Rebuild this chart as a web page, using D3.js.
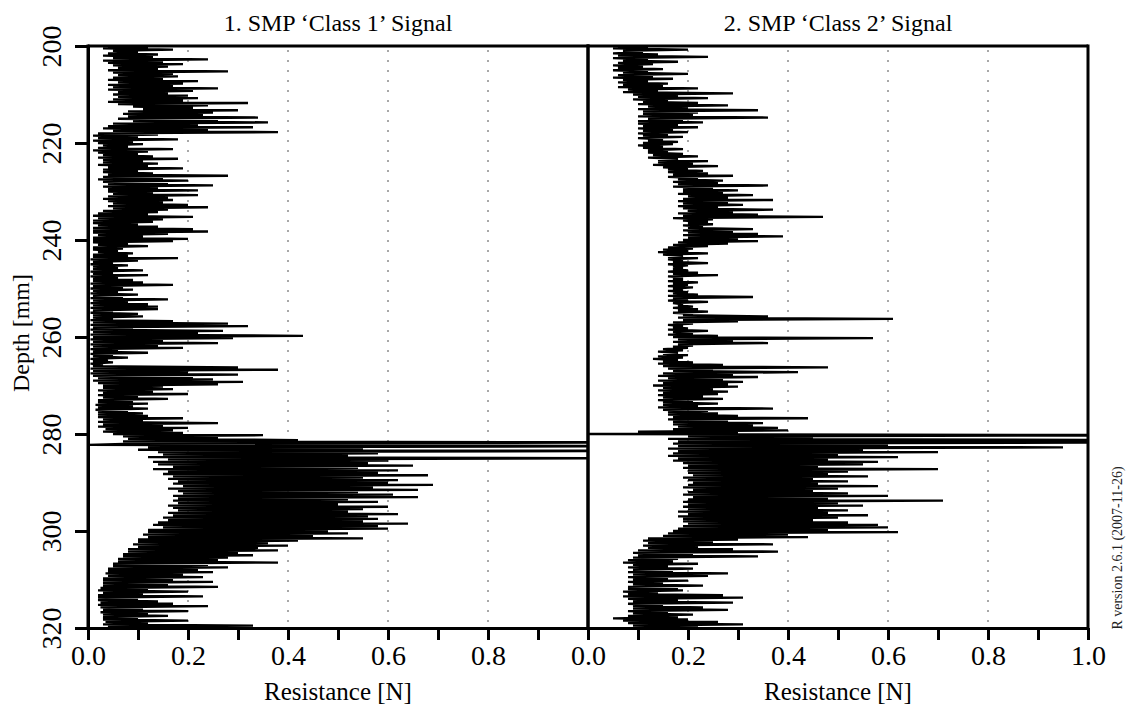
<!DOCTYPE html>
<html>
<head>
<meta charset="utf-8">
<script src="https://cdn.jsdelivr.net/npm/d3@7"></script>
<style>
  body { margin: 0; background: #fff; }
  svg { display: block; }
  svg text { font-family: "Liberation Serif", "Times New Roman", serif; fill: #000; }
</style>
</head>
<body>
<svg id="chart" width="1133" height="708"></svg>
<script>
// SMP penetration resistance profiles, sampled every 0.25 mm from 200 mm depth
const depthStart = 200;
const depthStep = 0.25;

const class1 = [
  0.04,0.12,0.03,0.17,0.05,0.10,0.04,0.14,
  0.03,0.13,0.05,0.24,0.03,0.15,0.04,0.19,
  0.05,0.16,0.06,0.14,0.04,0.28,0.05,0.17,
  0.06,0.18,0.05,0.15,0.04,0.22,0.06,0.19,
  0.04,0.17,0.05,0.26,0.04,0.21,0.06,0.16,
  0.05,0.20,0.06,0.22,0.05,0.19,0.04,0.32,
  0.06,0.24,0.09,0.21,0.11,0.30,0.08,0.25,
  0.07,0.23,0.08,0.34,0.06,0.26,0.09,0.36,
  0.05,0.22,0.04,0.33,0.03,0.24,0.05,0.38,
  0.02,0.14,0.01,0.10,0.02,0.18,0.01,0.09,
  0.02,0.11,0.03,0.08,0.02,0.17,0.01,0.12,
  0.02,0.10,0.03,0.13,0.02,0.18,0.03,0.11,
  0.03,0.14,0.02,0.12,0.04,0.19,0.03,0.10,
  0.03,0.13,0.04,0.28,0.03,0.15,0.02,0.20,
  0.03,0.16,0.04,0.25,0.03,0.14,0.04,0.22,
  0.04,0.13,0.05,0.22,0.04,0.16,0.03,0.17,
  0.04,0.15,0.05,0.20,0.04,0.24,0.05,0.16,
  0.03,0.14,0.02,0.12,0.01,0.21,0.02,0.15,
  0.01,0.13,0.01,0.10,0.02,0.14,0.01,0.21,
  0.01,0.24,0.01,0.16,0.02,0.11,0.01,0.20,
  0.01,0.17,0.01,0.08,0.02,0.12,0.01,0.07,
  0.01,0.06,0.02,0.09,0.01,0.08,0.01,0.18,
  0.005,0.10,0.01,0.05,0.005,0.08,0.01,0.06,
  0.01,0.11,0.005,0.05,0.01,0.12,0.005,0.06,
  0.01,0.09,0.01,0.11,0.005,0.17,0.01,0.07,
  0.005,0.09,0.01,0.06,0.005,0.10,0.01,0.07,
  0.005,0.16,0.01,0.08,0.005,0.12,0.01,0.14,
  0.005,0.14,0.01,0.05,0.005,0.10,0.01,0.11,
  0.01,0.05,0.005,0.17,0.01,0.28,0.005,0.32,
  0.01,0.09,0.005,0.27,0.01,0.22,0.005,0.43,
  0.01,0.29,0.005,0.15,0.01,0.26,0.005,0.14,
  0.01,0.19,0.005,0.06,0.01,0.12,0.005,0.05,
  0.01,0.08,0.005,0.04,0.01,0.05,0.005,0.03,
  0.01,0.30,0.005,0.38,0.01,0.20,0.005,0.30,
  0.01,0.21,0.02,0.25,0.01,0.31,0.02,0.26,
  0.03,0.15,0.03,0.17,0.02,0.13,0.03,0.20,
  0.02,0.10,0.03,0.16,0.02,0.09,0.02,0.12,
  0.015,0.09,0.02,0.12,0.015,0.08,0.02,0.11,
  0.02,0.12,0.02,0.19,0.03,0.11,0.02,0.26,
  0.03,0.15,0.02,0.20,0.035,0.17,0.03,0.19,
  0.05,0.35,0.07,0.26,0.08,0.42,0.07,1.20,
  0.09,0.00,1.30,0.12,0.55,0.10,1.20,0.14,
  0.58,0.15,0.52,0.12,1.10,0.16,0.60,0.13,
  0.56,0.14,0.65,0.17,0.54,0.13,0.62,0.16,
  0.58,0.15,0.68,0.17,0.55,0.16,0.62,0.18,
  0.60,0.17,0.69,0.19,0.57,0.16,0.66,0.18,
  0.54,0.19,0.61,0.17,0.66,0.18,0.52,0.17,
  0.58,0.18,0.50,0.16,0.60,0.17,0.55,0.18,
  0.52,0.16,0.62,0.17,0.56,0.15,0.58,0.16,
  0.55,0.14,0.64,0.13,0.58,0.15,0.60,0.12,
  0.48,0.12,0.52,0.11,0.45,0.12,0.55,0.10,
  0.42,0.10,0.36,0.09,0.40,0.10,0.34,0.08,
  0.38,0.08,0.30,0.07,0.33,0.07,0.28,0.06,
  0.26,0.06,0.38,0.05,0.24,0.05,0.28,0.04,
  0.22,0.04,0.25,0.035,0.19,0.04,0.23,0.03,
  0.17,0.03,0.25,0.03,0.16,0.03,0.26,0.025,
  0.12,0.02,0.20,0.03,0.11,0.02,0.23,0.02,
  0.10,0.02,0.14,0.025,0.17,0.02,0.24,0.025,
  0.11,0.03,0.20,0.025,0.12,0.03,0.16,0.03,
  0.10,0.03,0.20,0.035,0.12,0.03,0.33,0.04,
  0.05
];

const class2 = [
  0.06,0.12,0.05,0.20,0.07,0.11,0.05,0.14,
  0.06,0.24,0.05,0.12,0.07,0.18,0.06,0.13,
  0.05,0.11,0.06,0.15,0.05,0.12,0.07,0.20,
  0.06,0.13,0.05,0.17,0.07,0.12,0.06,0.16,
  0.07,0.15,0.06,0.22,0.08,0.14,0.07,0.29,
  0.09,0.18,0.10,0.24,0.09,0.16,0.11,0.22,
  0.10,0.28,0.12,0.20,0.10,0.34,0.11,0.22,
  0.11,0.21,0.10,0.36,0.12,0.19,0.10,0.23,
  0.10,0.18,0.11,0.22,0.10,0.17,0.11,0.20,
  0.10,0.16,0.11,0.19,0.10,0.15,0.12,0.18,
  0.11,0.17,0.10,0.15,0.11,0.19,0.12,0.16,
  0.12,0.19,0.13,0.22,0.12,0.18,0.14,0.24,
  0.14,0.21,0.13,0.26,0.15,0.20,0.16,0.23,
  0.16,0.24,0.17,0.29,0.16,0.22,0.18,0.27,
  0.17,0.26,0.18,0.36,0.17,0.25,0.19,0.30,
  0.19,0.27,0.18,0.33,0.20,0.28,0.19,0.37,
  0.18,0.28,0.19,0.31,0.18,0.26,0.19,0.37,
  0.20,0.29,0.18,0.34,0.19,0.47,0.17,0.25,
  0.19,0.24,0.20,0.25,0.19,0.23,0.20,0.33,
  0.19,0.29,0.20,0.34,0.19,0.39,0.20,0.30,
  0.19,0.34,0.18,0.28,0.17,0.24,0.16,0.21,
  0.15,0.20,0.14,0.24,0.15,0.19,0.16,0.22,
  0.16,0.19,0.17,0.24,0.16,0.20,0.17,0.19,
  0.17,0.20,0.16,0.22,0.17,0.26,0.16,0.19,
  0.17,0.19,0.16,0.22,0.17,0.20,0.16,0.21,
  0.17,0.19,0.16,0.20,0.17,0.22,0.16,0.33,
  0.17,0.20,0.16,0.24,0.17,0.19,0.18,0.21,
  0.17,0.22,0.18,0.24,0.17,0.21,0.19,0.36,
  0.18,0.61,0.19,0.30,0.17,0.21,0.16,0.19,
  0.17,0.20,0.16,0.24,0.17,0.21,0.16,0.26,
  0.17,0.57,0.18,0.29,0.17,0.36,0.18,0.21,
  0.17,0.20,0.15,0.19,0.14,0.18,0.15,0.20,
  0.14,0.19,0.13,0.18,0.15,0.21,0.14,0.27,
  0.15,0.48,0.16,0.25,0.17,0.42,0.15,0.29,
  0.14,0.34,0.16,0.27,0.14,0.31,0.15,0.28,
  0.13,0.30,0.15,0.25,0.14,0.28,0.15,0.26,
  0.14,0.23,0.15,0.27,0.14,0.21,0.15,0.26,
  0.15,0.22,0.14,0.37,0.15,0.24,0.16,0.26,
  0.16,0.30,0.17,0.44,0.16,0.28,0.17,0.35,
  0.17,0.33,0.18,0.38,0.17,0.40,0.10,0.30,
  0.00,1.30,0.20,0.45,0.16,1.20,0.18,1.10,
  0.17,0.60,0.18,0.95,0.16,0.55,0.18,0.70,
  0.17,0.50,0.16,0.62,0.18,0.48,0.17,0.58,
  0.19,0.55,0.20,0.46,0.19,0.70,0.20,0.52,
  0.20,0.48,0.21,0.56,0.19,0.45,0.20,0.52,
  0.21,0.46,0.20,0.58,0.19,0.50,0.21,0.45,
  0.20,0.52,0.19,0.60,0.21,0.48,0.20,0.71,
  0.19,0.50,0.20,0.55,0.19,0.46,0.20,0.52,
  0.18,0.48,0.20,0.56,0.18,0.50,0.19,0.45,
  0.19,0.52,0.20,0.58,0.19,0.60,0.18,0.48,
  0.17,0.62,0.16,0.40,0.15,0.44,0.12,0.30,
  0.11,0.25,0.12,0.37,0.11,0.22,0.12,0.29,
  0.10,0.38,0.09,0.21,0.10,0.34,0.09,0.18,
  0.08,0.17,0.07,0.22,0.09,0.16,0.08,0.21,
  0.09,0.17,0.08,0.28,0.09,0.24,0.08,0.16,
  0.09,0.20,0.08,0.15,0.09,0.23,0.08,0.18,
  0.08,0.19,0.07,0.14,0.08,0.27,0.07,0.31,
  0.08,0.18,0.09,0.29,0.08,0.15,0.09,0.23,
  0.09,0.28,0.08,0.16,0.09,0.21,0.08,0.18,
  0.05,0.20,0.07,0.26,0.08,0.31,0.09,0.22,
  0.10
];

const panelTitles = ["1. SMP \u2018Class 1\u2019 Signal", "2. SMP \u2018Class 2\u2019 Signal"];
const depthTicks = [200, 220, 240, 260, 280, 300, 320];
const resistanceTicks = [0, 0.1, 0.2, 0.3, 0.4, 0.5, 0.6, 0.7, 0.8, 0.9, 1.0];
const resistanceLabels = [[0, 0.2, 0.4, 0.6, 0.8], [0, 0.2, 0.4, 0.6, 0.8, 1.0]];
const gridValues = [0.2, 0.4, 0.6, 0.8];
const yLabel = "Depth [mm]";
const xLabel = "Resistance [N]";
const versionNote = "R version 2.6.1 (2007-11-26)";

const serif = "'Liberation Serif', 'Times New Roman', serif";
const svg = d3.select("#chart");
const plotTop = 46, plotBottom = 628;
const panelLefts = [88, 588];
const panelWidth = 500;

const y = d3.scaleLinear().domain([200, 320]).range([plotTop, plotBottom]);

const series = [class1, class2].map(vals =>
  vals.map((v, i) => ({ depth: depthStart + i * depthStep, value: v })));

series.forEach((pts, p) => {
  const x0 = panelLefts[p];
  const x = d3.scaleLinear().domain([0, 1]).range([x0, x0 + panelWidth]);
  const g = svg.append("g");

  const clipId = "clip" + p;
  svg.append("clipPath").attr("id", clipId)
    .append("rect").attr("x", x0).attr("y", plotTop)
    .attr("width", panelWidth).attr("height", plotBottom - plotTop);

  // dotted reference lines
  g.selectAll("line.grid").data(gridValues).join("line")
    .attr("class", "grid")
    .attr("x1", d => x(d)).attr("x2", d => x(d))
    .attr("y1", plotTop + 4).attr("y2", plotBottom)
    .attr("stroke", "#a8a8a8").attr("stroke-width", 2)
    .attr("stroke-dasharray", "2,8");

  // resistance signal
  const line = d3.line().x(d => x(d.value)).y(d => y(d.depth));
  g.append("path").datum(pts)
    .attr("clip-path", `url(#${clipId})`)
    .attr("d", line)
    .attr("fill", "none").attr("stroke", "#000")
    .attr("stroke-width", 2.3).attr("stroke-linejoin", "bevel");

  // bottom axis
  const labelSet = resistanceLabels[p];
  const ax = g.append("g").attr("transform", `translate(0,${plotBottom})`)
    .call(d3.axisBottom(x).tickValues(resistanceTicks).tickSize(12).tickSizeOuter(0)
      .tickFormat(d => labelSet.some(l => Math.abs(l - d) < 1e-9) ? d3.format(".1f")(d) : ""));
  ax.attr("font-family", null).attr("font-size", null);
  ax.select(".domain").attr("stroke-width", 3);
  ax.selectAll(".tick line").attr("stroke-width", 3);
  ax.selectAll(".tick text").attr("y", 37).attr("dy", null)
    .style("font-size", "28px").style("font-family", serif);

  // frame: top, left and right edges
  g.append("line").attr("x1", x0).attr("x2", x0 + panelWidth)
    .attr("y1", plotTop).attr("y2", plotTop)
    .attr("stroke", "#000").attr("stroke-width", 3);
  g.append("line").attr("x1", x0 + panelWidth).attr("x2", x0 + panelWidth)
    .attr("y1", plotTop - 1.5).attr("y2", plotBottom + 1.5)
    .attr("stroke", "#000").attr("stroke-width", 3);
  g.append("line").attr("x1", x0).attr("x2", x0)
    .attr("y1", plotTop - 1.5).attr("y2", plotBottom + 1.5)
    .attr("stroke", "#000").attr("stroke-width", 3);

  // panel title and axis title
  g.append("text").attr("x", x0 + panelWidth / 2).attr("y", 31)
    .attr("text-anchor", "middle").style("font-size", "24px").text(panelTitles[p]);
  g.append("text").attr("x", x0 + panelWidth / 2).attr("y", 700)
    .attr("text-anchor", "middle").style("font-size", "25px").text(xLabel);
});

// depth axis on the left
const ay = svg.append("g").attr("transform", `translate(${panelLefts[0]},0)`)
  .call(d3.axisLeft(y).tickValues(depthTicks).tickSize(13).tickSizeOuter(0));
ay.attr("font-family", null).attr("font-size", null);
ay.select(".domain").attr("stroke-width", 3);
ay.selectAll(".tick line").attr("stroke-width", 3);
ay.selectAll(".tick text")
  .attr("x", 0).attr("y", -27).attr("dy", null)
  .attr("transform", "rotate(-90)")
  .attr("text-anchor", "middle")
  .style("font-size", "28px").style("font-family", serif);

svg.append("text")
  .attr("transform", `translate(29,333) rotate(-90)`)
  .attr("text-anchor", "middle").style("font-size", "24px").text(yLabel);

svg.append("text")
  .attr("transform", `translate(1122,548) rotate(-90)`)
  .attr("text-anchor", "middle").style("font-size", "14px").style("fill", "#222")
  .text(versionNote);
</script>
</body>
</html>
